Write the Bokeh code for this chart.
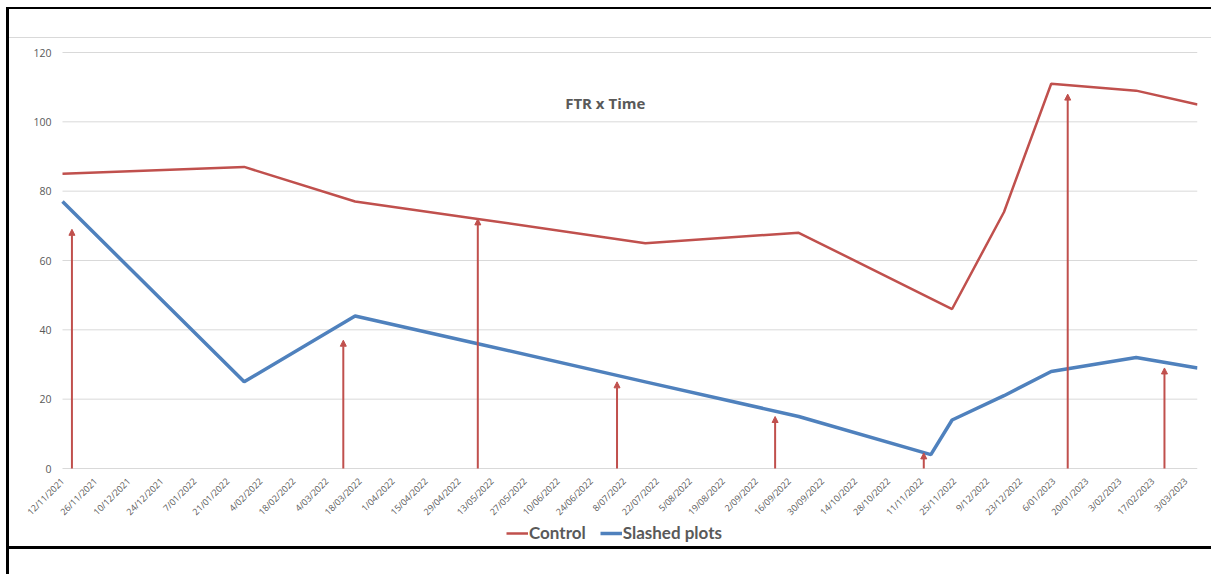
import pandas as pd
from bokeh.plotting import figure
from bokeh.models import (ColumnDataSource, FixedTicker, Legend, LegendItem, Label,
                          Arrow, NormalHead, Range1d)
from bokeh.embed import file_html
from bokeh.resources import INLINE

# Fortnightly axis labels
TICK_LABELS = [
    "12/11/2021", "26/11/2021", "10/12/2021", "24/12/2021", "7/01/2022", "21/01/2022",
    "4/02/2022", "18/02/2022", "4/03/2022", "18/03/2022", "1/04/2022", "15/04/2022",
    "29/04/2022", "13/05/2022", "27/05/2022", "10/06/2022", "24/06/2022", "8/07/2022",
    "22/07/2022", "5/08/2022", "19/08/2022", "2/09/2022", "16/09/2022", "30/09/2022",
    "14/10/2022", "28/10/2022", "11/11/2022", "25/11/2022", "9/12/2022", "23/12/2022",
    "6/01/2023", "20/01/2023", "3/02/2023", "17/02/2023", "3/03/2023",
]
Y_TICKS = [0, 20, 40, 60, 80, 100, 120]

CONTROL_DATES = ["12/11/2021", "28/01/2022", "16/03/2022", "7/05/2022", "17/07/2022",
                 "20/09/2022", "24/11/2022", "16/12/2022", "5/01/2023", "10/02/2023",
                 "8/03/2023"]
CONTROL_FTR = [85, 87, 77, 72, 65, 68, 46, 74, 111, 109, 105]

SLASHED_DATES = ["12/11/2021", "28/01/2022", "16/03/2022", "7/05/2022", "17/07/2022",
                 "20/09/2022", "15/11/2022", "24/11/2022", "16/12/2022", "5/01/2023",
                 "10/02/2023", "8/03/2023"]
SLASHED_FTR = [77, 25, 44, 36, 25, 15, 4, 14, 21, 28, 32, 29]

# Event markers (vertical arrows)
EVENT_DATES = ["16/11/2021", "11/03/2022", "7/05/2022", "5/07/2022", "10/09/2022",
               "12/11/2022", "12/01/2023", "22/02/2023"]
EVENT_FTR = [69, 37, 72, 25, 15, 4.5, 108, 29]

RED = "#C0504D"
BLUE = "#4F81BD"
TEXT = "#595959"
GRID = "#D9D9D9"

# plot-area geometry (pixels)
LEFT, PLOT_W, RIGHT = 62, 1135, 14
TOP, PLOT_H, BELOW = 52, 416, 106
Y_LOW, Y_HIGH = 0, 120
px_per_unit = PLOT_H / (Y_HIGH - Y_LOW)
# the frame covers the whole page so value labels, date labels and legend are never clipped
Y_MIN = Y_LOW - BELOW / px_per_unit
Y_MAX = Y_HIGH + TOP / px_per_unit


def to_dt(labels):
    return pd.to_datetime(labels, format="%d/%m/%Y")


def to_ms(dts):
    return [float((d - pd.Timestamp("1970-01-01")) / pd.Timedelta(milliseconds=1)) for d in dts]


tick_ms = to_ms(to_dt(TICK_LABELS))

control = ColumnDataSource(dict(date=to_dt(CONTROL_DATES), ftr=CONTROL_FTR))
slashed = ColumnDataSource(dict(date=to_dt(SLASHED_DATES), ftr=SLASHED_FTR))
events = ColumnDataSource(dict(date=to_dt(EVENT_DATES), base=[0] * len(EVENT_FTR),
                               ftr=EVENT_FTR))

x_start = min(to_dt(CONTROL_DATES).min(), to_dt(SLASHED_DATES).min())
x_end = max(to_dt(CONTROL_DATES).max(), to_dt(SLASHED_DATES).max())
x_pad = (x_end - x_start) * LEFT / PLOT_W   # room left of the first date for value labels

p = figure(frame_width=LEFT + PLOT_W, frame_height=TOP + PLOT_H + BELOW,
           x_axis_type="datetime",
           x_range=Range1d(x_start - x_pad, x_end), y_range=Range1d(Y_MIN, Y_MAX),
           output_backend="svg", toolbar_location=None,
           min_border_left=0, min_border_right=RIGHT, min_border_top=0,
           min_border_bottom=0)
p.outline_line_color = None
p.background_fill_color = None
p.border_fill_color = None

# page frame: black rules left/top/bottom, thin grey rule under the top
p.styles = {
    "background": (
        "linear-gradient(#000,#000) 6px 7px / 3px 567px no-repeat, "
        "linear-gradient(#000,#000) 6px 7px / 1205px 2px no-repeat, "
        "linear-gradient(#000,#000) 6px 546px / 1205px 3px no-repeat, "
        "linear-gradient(#D9D9D9,#D9D9D9) 9px 37px / 1202px 1px no-repeat, "
        "#ffffff"
    )
}

# axes
p.xaxis.fixed_location = 0
p.xaxis.ticker = FixedTicker(ticks=tick_ms)
p.xaxis.major_label_overrides = {t: lab for t, lab in zip(tick_ms, TICK_LABELS)}
p.xaxis.major_label_orientation = 0.785398
p.xaxis.axis_line_color = None
p.xaxis.major_tick_line_color = None
p.xaxis.minor_tick_line_color = None
p.xaxis.major_label_standoff = 5
p.xaxis.major_label_text_font = "Open Sans"
p.xaxis.major_label_text_font_size = "9px"
p.xaxis.major_label_text_color = TEXT

p.yaxis.fixed_location = to_ms([x_start])[0]
p.yaxis.ticker = FixedTicker(ticks=Y_TICKS)
p.yaxis.axis_line_color = None
p.yaxis.major_tick_line_color = None
p.yaxis.minor_tick_line_color = None
p.yaxis.major_label_standoff = 5
p.yaxis.major_label_text_font = "Open Sans"
p.yaxis.major_label_text_font_size = "10.5px"
p.yaxis.major_label_text_color = TEXT

# horizontal gridlines across the data span only
p.xgrid.visible = False
p.ygrid.visible = False
p.segment(x0=[x_start] * len(Y_TICKS), x1=[x_end] * len(Y_TICKS), y0=Y_TICKS, y1=Y_TICKS,
          line_color=GRID, line_width=1, level="underlay")

# series
r_control = p.line("date", "ftr", source=control, line_color=RED, line_width=2.5)
r_slashed = p.line("date", "ftr", source=slashed, line_color=BLUE, line_width=3.5)

p.add_layout(Arrow(end=NormalHead(size=6, fill_color=RED, line_color=RED, line_width=1),
                   x_start="date", y_start="base", x_end="date", y_end="ftr",
                   source=events, line_color=RED, line_width=2))

p.add_layout(Label(x=pd.Timestamp("2022-06-30"), y=105.5, text="FTR x Time",
                   text_align="center", text_baseline="middle",
                   text_font="Open Sans", text_font_style="bold",
                   text_font_size="15px", text_color=TEXT))

legend = Legend(items=[LegendItem(label="Control", renderers=[r_control]),
                       LegendItem(label="Slashed plots", renderers=[r_slashed])],
                orientation="horizontal", location=(LEFT + 444, 31),
                label_text_font="Lato", label_text_font_style="bold",
                label_text_font_size="17px", label_text_color=TEXT,
                glyph_width=22, glyph_height=20, label_standoff=1, spacing=14,
                border_line_color=None, background_fill_alpha=0,
                padding=0, margin=0)
p.add_layout(legend)

open("out.html", "w").write(file_html(p, INLINE))
